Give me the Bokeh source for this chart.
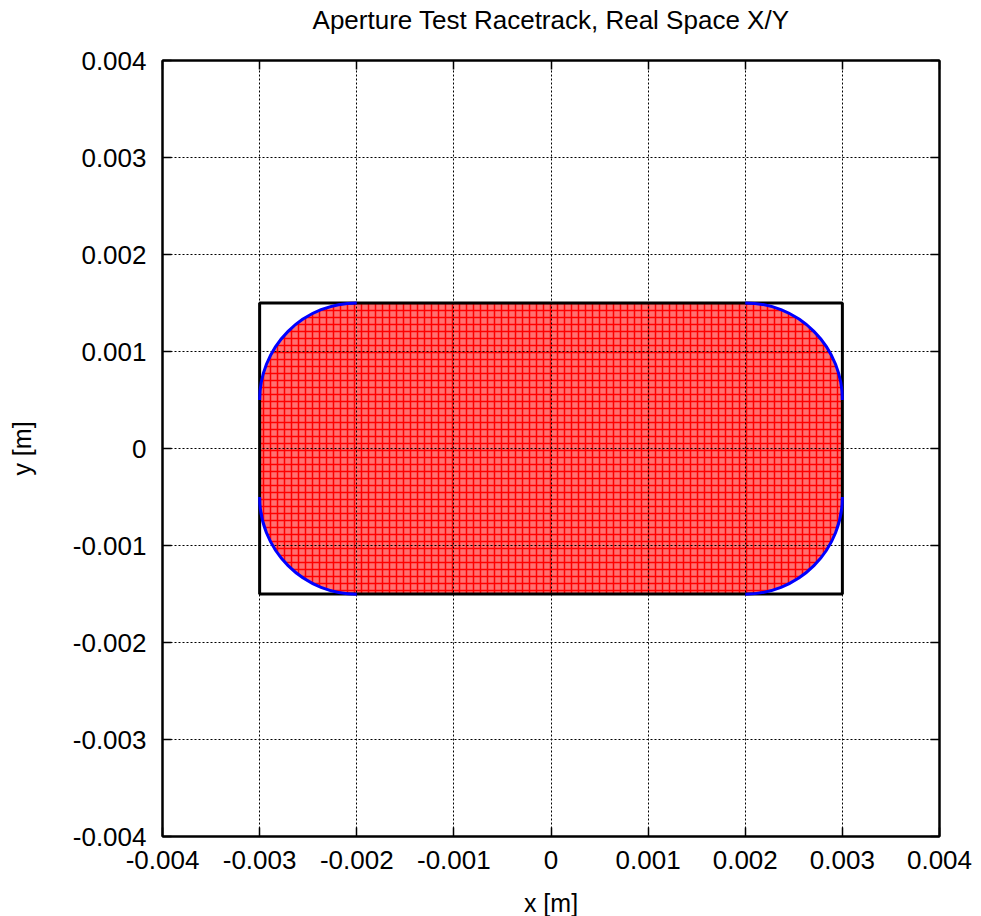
from bokeh.plotting import figure
from bokeh.models import FixedTicker, LinearAxis, Range1d, Label
from bokeh.layouts import column
from bokeh.embed import file_html
from bokeh.resources import INLINE

# ---------------- data ----------------
title_text = "Aperture Test Racetrack, Real Space X/Y"
x_label = "x [m]"
y_label = "y [m]"
x_ticks = [-0.004, -0.003, -0.002, -0.001, 0.0, 0.001, 0.002, 0.003, 0.004]
x_tick_labels = ["-0.004", "-0.003", "-0.002", "-0.001", "0", "0.001", "0.002", "0.003", "0.004"]
y_ticks = [-0.004, -0.003, -0.002, -0.001, 0.0, 0.001, 0.002, 0.003, 0.004]
y_tick_labels = ["-0.004", "-0.003", "-0.002", "-0.001", "0", "0.001", "0.002", "0.003", "0.004"]
x_limits = [-0.004, 0.004]
y_limits = [-0.004, 0.004]

# racetrack aperture parameters [m]
aper_half_x = 0.003      # outer half width (black box)
aper_half_y = 0.0015     # outer half height (black box)
corner_radius = 0.001    # radius of the rounded corners (blue arcs)
corner_sign_x = [-1, 1, 1, -1]
corner_sign_y = [1, 1, -1, -1]
corner_start_deg = [90, 0, 270, 180]
corner_end_deg = [180, 90, 360, 270]

FONT = "Liberation Sans"
FS = "26px"
W = 981
TITLE_H = 40
XLAB_H = 36
FRAME_LEFT, FRAME_RIGHT = 162, 42
FRAME_W = W - FRAME_LEFT - FRAME_RIGHT

cx = aper_half_x - corner_radius
cy = aper_half_y - corner_radius
corner_x = [s * cx for s in corner_sign_x]
corner_y = [s * cy for s in corner_sign_y]


def text_strip(height, text, baseline_from_bottom, size):
    # the column aligns this strip's frame with the main plot's frame
    f = figure(width=W, height=height, x_range=Range1d(0, 1), y_range=Range1d(0, 1),
               x_axis_type=None, y_axis_type=None, output_backend="svg",
               toolbar_location=None, min_border=0)
    f.outline_line_color = None
    f.background_fill_color = "white"
    f.border_fill_color = "white"
    f.add_layout(Label(x=FRAME_W / 2, y=baseline_from_bottom, x_units="screen", y_units="screen",
                       text=text, text_font=FONT, text_font_size=size, text_color="black",
                       text_align="center", text_baseline="alphabetic"))
    return f


title_fig = text_strip(TITLE_H, title_text, 20.5, FS)
xlabel_fig = text_strip(XLAB_H, x_label, 14, "25px")

p = figure(width=W, height=916 - TITLE_H - XLAB_H,
           x_range=Range1d(*x_limits), y_range=Range1d(*y_limits),
           output_backend="svg", toolbar_location=None,
           min_border_left=FRAME_LEFT, min_border_right=FRAME_RIGHT,
           min_border_top=60 - TITLE_H, min_border_bottom=80 - XLAB_H)
p.background_fill_color = "white"
p.border_fill_color = "white"
p.outline_line_color = "black"
p.outline_line_width = 2


def style_axis(ax, ticks, labels, show_labels=True):
    ax.ticker = FixedTicker(ticks=ticks)
    ax.major_tick_in = 9
    ax.major_tick_out = 0
    ax.minor_tick_line_color = None
    ax.major_tick_line_color = "black"
    ax.major_tick_line_width = 1.5
    ax.axis_line_color = "black"
    ax.axis_line_width = 2
    ax.major_label_text_font = FONT
    if show_labels:
        ax.major_label_overrides = dict(zip(ticks, labels))
        ax.major_label_text_font_size = FS
        ax.major_label_text_color = "black"
    else:
        ax.major_label_text_font_size = "1px"
        ax.major_label_text_color = None
        ax.major_label_standoff = 0


style_axis(p.xaxis[0], x_ticks, x_tick_labels)
style_axis(p.yaxis[0], y_ticks, y_tick_labels)
p.xaxis[0].major_label_standoff = 14
p.yaxis[0].major_label_standoff = 16
p.yaxis[0].axis_label = y_label
p.yaxis[0].axis_label_text_font = FONT
p.yaxis[0].axis_label_text_font_size = "25px"
p.yaxis[0].axis_label_text_font_style = "normal"
p.yaxis[0].axis_label_text_color = "black"
p.yaxis[0].axis_label_standoff = 34

top_ax = LinearAxis()
style_axis(top_ax, x_ticks, x_tick_labels, show_labels=False)
p.add_layout(top_ax, "above")
right_ax = LinearAxis()
style_axis(right_ax, y_ticks, y_tick_labels, show_labels=False)
p.add_layout(right_ax, "right")

for g, t in ((p.xgrid[0], x_ticks), (p.ygrid[0], y_ticks)):
    g.ticker = FixedTicker(ticks=t)
    g.grid_line_color = "black"
    g.grid_line_dash = "2 2"
    g.grid_line_width = 1

# ---- particle cloud filling the racetrack (dense red "+" markers) ----
cloud_style = dict(fill_color="#ff7070", fill_alpha=1.0, hatch_pattern="+",
                   hatch_color="red", hatch_scale=7, hatch_weight=1.5, line_color=None)
r1 = p.quad(left=-cx, right=cx, bottom=-aper_half_y, top=aper_half_y, **cloud_style)
r2 = p.quad(left=-aper_half_x, right=aper_half_x, bottom=-cy, top=cy, **cloud_style)
r3 = p.wedge(x=corner_x, y=corner_y, radius=corner_radius,
             start_angle=corner_start_deg, end_angle=corner_end_deg,
             start_angle_units="deg", end_angle_units="deg", **cloud_style)
for r in (r1, r2, r3):
    r.level = "image"

# ---- aperture outline ----
p.quad(left=-aper_half_x, right=aper_half_x, bottom=-aper_half_y, top=aper_half_y,
       fill_color=None, line_color="black", line_width=3)
p.arc(x=corner_x, y=corner_y, radius=corner_radius,
      start_angle=corner_start_deg, end_angle=corner_end_deg,
      start_angle_units="deg", end_angle_units="deg",
      line_color="blue", line_width=3)

layout = column(title_fig, p, xlabel_fig, spacing=0)
open("out.html", "w").write(file_html(layout, INLINE))
